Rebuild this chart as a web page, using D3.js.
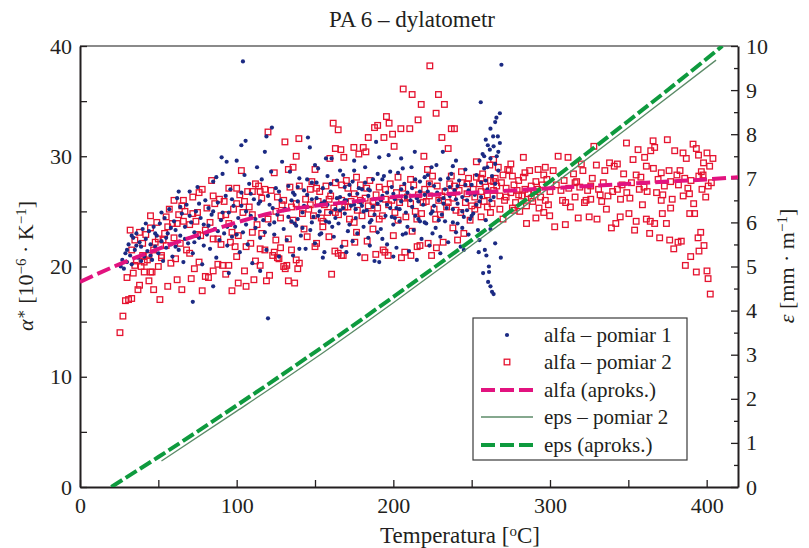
<!DOCTYPE html>
<html><head><meta charset="utf-8">
<script src="https://cdn.jsdelivr.net/npm/d3@7"></script>
<style>
html,body{margin:0;padding:0;background:#fff;}
text{font-family:"Liberation Serif","DejaVu Serif",serif;fill:#231f20;}
</style></head>
<body><svg id="chart" width="809" height="548"></svg>
<script>
const title = "PA 6 – dylatometr";
const xTicks = [0,50,100,150,200,250,300,350,400];
const xLabels = [0,100,200,300,400];
const yLeftTicks = [0,5,10,15,20,25,30,35,40];
const yLeftLabels = [0,10,20,30,40];
const yRightTicks = [0,0.5,1,1.5,2,2.5,3,3.5,4,4.5,5,5.5,6,6.5,7,7.5,8,8.5,9,9.5,10];
const yRightLabels = [0,1,2,3,4,5,6,7,8,9,10];
const legendLabels = ["alfa – pomiar 1","alfa – pomiar 2","alfa (aproks.)","eps – pomiar 2","eps (aproks.)"];

// alfa – pomiar 1 : [T, alpha]
const alfa1 = [
[26,20.0],[27,20.6],[28,19.8],[29,21.2],[30,20.4],[31,22.0],[32,21.0],[33,20.2],[34,22.6],[35,21.5],[36,23.0],[37,20.8],[38,22.2],[39,21.8],[40,23.4],[41,20.9],[42,22.5],[43,21.4],[44,23.2],[45,22.0],[46,20.6],[47,23.6],[48,21.8],[49,22.8],[50,21.2],
[51,23.9],[52,22.3],[53,20.5],[54,24.4],[55,21.7],[56,23.0],[57,25.2],[58,22.0],[59,20.9],[60,24.1],[61,23.3],[62,26.2],[63,21.5],[64,22.8],[65,24.8],[66,20.4],[67,23.6],[68,25.6],[69,22.1],[70,26.8],[71,24.0],[72,21.2],[73,23.1],[74,25.0],[75,27.2],[76,22.6],[77,24.4],[78,20.2],[79,23.8],[80,26.0],[81,22.9],[82,25.3],[83,21.6],[84,24.7],[85,27.7],[86,23.4],[87,20.8],[88,25.8],[89,22.4],[90,24.2],[91,28.4],[92,23.0],[93,26.4],[94,21.9],[95,24.9],[96,27.0],[97,22.7],[98,25.5],[99,23.6],[100,29.6],[72,16.8],[85,18.2],[95,19.4],[87,28.1],[90.4,29.9],[93.6,29.5],[63,26.8],
[101,24.4],[102,21.3],[103,26.7],[104,38.6],[104,23.1],[105,28.3],[106,25.0],[107,22.0],[108,27.5],[109,24.6],[110,20.3],[111,26.1],[112,23.5],[113,29.0],[114,25.7],[115,22.6],[116,27.9],[117,24.2],[118,30.4],[119,21.5],[120,26.4],[120,15.3],[121,23.8],[122.5,32.6],[122,28.6],[123,25.3],[124,22.9],[125,27.1],[126,24.7],[127,20.9],[128,26.0],[129,29.5],[130,23.4],[119,31.8],[105.7,31.4],[103,31.0],[115,19.6],[134,28.6],
[131,25.2],[132,22.4],[133,27.3],[135,24.1],[136,21.0],[137,26.5],[138,23.7],[139,25.9],[140,28.0],[141,22.8],[142,24.9],[143,26.9],[144,21.6],[145,25.4],[145.5,31.7],[146.7,30.8],[147,23.3],[148,27.6],[149,24.5],[150,22.1],[151,26.2],[152,28.9],[153,25.0],[154,23.0],[155,27.1],[156,21.3],[157,29.8],[158,25.6],[159,24.0],[160,26.8],[160.6,29.8],[162,22.7],[163,25.2],[164,27.8],[165,23.9],[166,26.3],[167,21.8],[168,28.3],[169,24.8],[170,26.0],[171,23.2],[172,27.4],[173,25.5],[174,22.3],[175,28.7],[176,24.4],[177,26.6],[178,21.1],[179,25.8],[180,27.0],[181,23.6],[182,29.0],[183,25.1],[184,22.6],[185,26.9],[186,24.2],[187,27.9],[188,20.5],[189,31.3],[190,25.7],[191,29.9],[191,20.4],[192,23.4],[193,26.4],[194,28.2],[195,24.6],[196,22.0],[197,30.1],[198,25.3],[199,27.2],[200,23.8],[201,26.1],[202,21.7],[203,28.5],[204,24.1],[205,25.9],[206,22.9],[207,27.5],[208,24.9],[209,26.7],[210,21.4],[211.6,29.0],[212,25.4],[213,23.3],[213.7,30.4],[215,26.2],[216,24.3],[217,27.7],[218,22.5],[219,25.6],[220,28.1],[221,23.9],[222,26.8],[223,21.9],[224.4,29.0],[225,25.0],[226,27.3],[227,23.5],[227.5,29.2],[229,26.0],[230,22.7],[231,24.7],[231.6,30.4],[233,27.0],[234,25.3],[235,22.2],[236,26.4],[237,28.4],[238,24.0],[239,26.9],[240,23.1],[241,25.7],[242,27.8],[243,21.8],[244,26.3],[245,24.5],[246,28.8],[247,25.1],[248,22.9],[249,26.6],[250,27.4],
[135,26.0],[139,24.3],[143,25.5],[148,26.1],[152,24.6],[156,25.9],[160,24.9],[164,26.2],[168,25.3],[172,26.5],[176,25.2],[180,25.5],[184,26.4],[188,24.7],[192,26.0],[196,25.6],[200,26.6],[204,25.2],[208,26.3],[212,27.1],[216,25.9],[220,26.5],[224,24.8],[228,26.7],[232,25.7],[236,27.2],[240,26.1],[244,25.0],[248,26.9],[137,23.9],[145,27.9],[153,22.9],[161,23.6],[169,27.2],[177,23.0],[185,24.0],[193,22.5],[201,24.4],[209,23.6],[217,24.1],[225,23.0],[233,24.1],[241,23.9],[249,24.3],[158,28.2],[166,28.7],[174,27.7],[182,27.6],[190,28.4],[198,28.6],[206,28.9],[214,27.9],[222,28.3],[230,27.9],[238,29.1],[246,27.4],
[251,24.8],[252,26.5],[253,28.3],[254,23.3],[254.5,21.3],[255,29.6],[255,25.9],[255.8,34.9],[256,27.6],[257,30.2],[257.3,19.4],[258,28.9],[258.4,21.5],[259,31.5],[259.4,21.0],[259,24.2],[260.3,31.0],[260.5,18.6],[260,27.0],[261.6,30.6],[261.1,19.5],[261,20.0],[262,18.2],[262,29.8],[262,32.5],[263.7,31.8],[263,17.7],[263,28.2],[264,30.9],[264,26.3],[265,33.1],[265,29.3],[265.8,33.5],[266.7,31.8],[264,17.5],[267,30.4],[267,28.7],[268,33.9],[268.6,20.8],[269,38.3],[268,31.2],[265,22.1],[255,22.4],[262,23.4],[258,30.0],[266,30.0],[260,29.0],
[30,21.5],[33,22.8],[36,21.9],[39,20.5],[42,23.9],[45,21.0],[48,23.0],[52,24.9],[55,22.6],[58,23.5],[61,21.8],[64,25.4],[67,22.5],[70,24.6],[73,22.2],[76,25.7],[79,21.9],[82,23.7],[85,25.0],[88,23.2],[91,24.9],[94,23.6],[97,26.1],[100,22.9],[103,25.5],[106,23.8],[109,26.6],[112,24.3],[115,25.9],[118,23.1],[121,25.6],[124,24.0],[127,26.8],[130,25.1],[133,24.5],[136,26.7],[139,27.2],[142,23.5],[145,26.5],[148,24.0],[151,27.6],[154,25.7],[157,24.1],[160,27.5],[163,24.4],[166,25.1],[169,26.0],[172,23.8],[175,25.6],[178,27.1],[181,25.0],[184,27.0],[187,25.4],[190,23.1],[193,27.9],[196,26.7],[199,24.5],[202,25.3],[205,27.0],[208,23.0],[211,26.0],[214,24.6],[217,26.8],[220,24.0],[223,27.5],[226,25.5],[229,24.2],[232,26.2],[235,28.0],[238,25.2],[241,27.3],[244,23.5],[247,26.0],[250,24.6],[253,25.6],[256,26.3],[259,27.8],[262,26.0],[265,27.5],[140,21.6],[170,21.3],[200,20.9],[230,21.2],[155,20.8],[185,21.9],[215,20.6],[245,21.5],[175,29.6],[205,29.8],[150,29.2],[240,29.6]
];

// alfa – pomiar 2 : [T, alpha]
const alfa2 = [
[25.5,14.0],[27.4,15.5],[29,16.9],[31,17.0],[33,17.1],[34,19.4],[37,17.9],[38,18.3],[39,20.0],[41,20.4],[41,19.5],[43,20.6],[44,18.7],[44,21.0],[45,19.5],[46,19.5],[47,17.9],[40,21.0],[36,20.5],[30,19.0],[33,21.5],[35,22.4],[42,22.9],[45,23.5],[48,22.2],[49,24.0],[38,23.1],[47,21.5],[50,22.5],[32,23.3],
[51,17.0],[52,20.8],[52,21.0],[53,22.4],[54,23.0],[55,24.5],[56,18.2],[56,23.6],[57,25.2],[58,20.3],[59,23.9],[60,26.0],[61,20.7],[62,18.8],[62,23.9],[63,24.7],[64,22.1],[65,17.9],[66,24.1],[66,26.0],[67,25.0],[68,21.5],[70,23.8],[71,18.9],[72,24.8],[72,26.3],[73,19.8],[74,24.1],[75,22.9],[76,20.4],[76,26.7],[77,22.8],[78,17.8],[78,27.0],[80,19.1],[81,25.3],[82,19.0],[83,24.0],[84,27.8],[85,19.6],[85,22.5],[86,25.7],[88,20.2],[88,22.5],[89,26.1],[90,24.6],[91,20.1],[92,25.9],[93,19.3],[93,24.7],[95,20.1],[95,27.1],[96,22.2],[97,17.8],[97,23.1],[98,25.2],[99,21.8],[100,27.1],[100,25.7],
[101,18.5],[101,22.8],[102,26.5],[103,28.7],[104,24.9],[105,19.6],[106,18.2],[106,21.8],[107,26.8],[108,25.4],[109,22.1],[110,26.8],[110,24.7],[111,18.8],[112,20.5],[112,27.5],[113,23.8],[114,27.3],[115,20.1],[115,21.6],[116,26.2],[116,23.0],[118,21.5],[118,27.0],[119,18.7],[120,32.2],[121,19.2],[122,26.9],[123,21.0],[124,28.5],[124,21.3],[125,25.0],[126,20.8],[126,26.3],[127,20.7],[128,21.7],[129,25.6],[130,20.0],[130.8,31.3],[131,19.8],[132,20.1],[133,18.7],[133,22.5],[133,28.8],[134,27.2],[135,21.5],[136,29.0],[137,18.5],[138,20.6],[138,25.7],[138,30.0],[139,19.8],[139.7,31.6],[140,20.3],[136,24.2],[128,24.4],
[150,28.8],[148,27.7],[159.5,29.8],[161.6,33.0],[163,30.7],[164.8,32.4],[166.5,30.6],[168.4,29.9],[170,27.8],[174.8,30.8],[176.5,28.1],[178,30.2],[180.8,30.8],[182.5,30.4],[184,31.7],[188,32.6],[190,32.8],[194,31.7],[195.6,33.6],[197.3,33.0],[199.5,32.0],[200.5,30.9],[203,28.1],[204.8,32.5],[206.3,36.1],[210.5,32.5],[212,35.6],[215.8,33.3],[217.8,34.7],[219.5,30.0],[221.8,28.8],[223.3,38.2],[225,28.2],[227.3,33.9],[228.8,35.6],[231,31.7],[232.6,34.7],[235,30.7],[237,32.5],[239,32.5],[237,28.2],[243.5,28.6],
[151,22.1],[150,21.8],[158.9,22.7],[160.6,19.3],[162.7,21.4],[164.8,21.2],[166.9,21.0],[168,21.0],[169,22.1],[175.4,22.2],[176.5,23.1],[181.8,20.8],[183.3,22.3],[188.8,21.1],[193.5,21.5],[194.6,21.3],[196.7,21.0],[205.2,20.8],[207.3,21.3],[211.2,21.0],[215.2,21.8],[217,21.9],[222.2,22.1],[224.4,21.0],[227.5,21.7],[231.8,22.2],[145,22.7],[155,23.6],[187,23.4],[200,22.8],[212,23.2],[238,23.5],[245,23.0],[249,24.2],[241,22.4],
[142,24.8],[144,26.1],[146,25.2],[147,27.0],[149,24.6],[152,25.9],[153,26.8],[154,24.4],[156,25.6],[157,27.3],[158,24.9],[160,26.4],[162,25.3],[163,27.6],[165,24.7],[167,26.0],[169,25.4],[171,27.1],[172,24.3],[173,25.9],[175,26.6],[177,25.1],[179,27.4],[180,24.6],[182,26.2],[184,25.5],[185,27.8],[186,24.8],[189,26.5],[190,25.3],[191,27.2],[193,24.6],[195,26.1],[197,25.6],[198,27.5],[201,24.9],[202,26.7],[204,25.8],[206,27.1],[208,24.5],[209,26.3],[211,25.7],[213,27.4],[214,25.0],[216,26.5],[218,24.8],[220,27.0],[221,25.9],[223,26.4],[226,25.2],[228,27.3],[229,26.0],[230,24.7],[233,26.8],[234,25.4],[236,27.5],[238,26.2],[240,25.1],[242,26.9],[244,27.6],[246,25.8],[247,26.6],[248,28.0],[250,25.5],
[251,27.0],[252,26.3],[253,28.1],[254,25.6],[255,27.5],[256,26.8],[257,28.4],[258,25.9],[259,27.2],[260,26.5],[261.6,29.2],[262,27.8],[263,25.7],[264,26.9],[265,28.0],[266,27.3],[267,29.0],[268,26.4],[269,27.6],[270,28.3],[271,26.0],[272,27.1],[273,28.8],[274,28.7],[275,26.7],[276,28.2],[277,27.4],[278,25.8],[279,26.9],[280,27.8],[280.7,25.0],[282,26.4],[283,28.1],[284,27.0],[285,25.5],[286,26.6],[287,28.7],[288,27.3],[289,25.9],[290,26.8],[291,27.7],[292.4,28.8],[293,25.3],[294,26.3],[295,27.4],[296,24.9],[297,26.0],[298,27.9],[299,25.6],[299.8,24.6],[256,24.5],[262,24.9],[270,24.3],[277,25.1],[285,23.9],[291,24.4],[253,29.5],[264,29.7],[275,29.3],[283,29.9],[297,29.0],
[302,28.7],[303,23.6],[305.2,30.0],[307,26.9],[309,27.8],[309.8,23.8],[311.5,29.9],[313,25.4],[315,28.4],[316,26.3],[318,24.4],[319,27.2],[320,29.3],[322,25.8],[324,26.9],[325,24.5],[327,28.0],[328,30.9],[329.6,29.2],[330,24.3],[332,26.5],[334,27.6],[336,25.2],[338,29.4],[339.2,23.5],[340,26.8],[341,29.1],[342,23.9],[343,29.3],[344.8,24.5],[346,27.4],[348.8,31.2],[350.4,24.8],[351,26.2],[353,29.7],[354,23.3],[355,24.1],[356.2,30.6],[357,27.0],[359,25.6],[360.4,29.9],[361.5,24.3],[361.5,29.1],[363.6,23.0],[364,24.1],[364.3,30.5],[365.8,31.4],[366.8,30.8],[366.8,23.9],[368,26.7],[370,22.6],[371,28.5],[371.7,24.8],[373,27.3],[374.3,23.9],[374.9,31.5],[376,28.7],[376.4,22.4],[378,26.1],[379,21.6],[379.6,30.5],[381,28.3],[381.7,22.2],[383.8,22.3],[384.9,30.3],[386,28.0],[386.4,20.1],[387,29.8],[388,27.1],[389.2,24.8],[389.8,20.9],[391.3,31.1],[391.7,25.7],[392.3,24.8],[393.4,30.7],[393.4,19.5],[394.5,22.6],[394.8,30.1],[395.1,21.4],[396.2,23.1],[396.6,28.6],[397.7,28.3],[398,29.4],[398.3,21.9],[399.4,26.3],[400.2,30.3],[400.2,19.6],[400.9,18.9],[401.9,29.1],[402.3,17.5],[403,27.6],[385,26.4],[377,25.3],[369,27.9],[358,28.1],[347,28.4],[335,28.7],[326,27.3],[317,27.7],[308,26.0],[312,27.1],[323,26.0],[333,25.9],[345,26.1],[352,27.6],[362,26.8],[372,26.5],[382,27.4],[390,27.8],[397,27.0],[404,29.8],
[35,20.1],[40,22.1],[45,24.6],[50,20.0],[55,21.9],[60,22.6],[65,25.5],[70,21.2],[75,24.9],[80,23.3],[85,26.4],[90,22.0],[95,23.9],[100,20.9],[105,25.9],[110,23.1],[115,26.8],[120,24.3],[125,22.4],[130,26.0],[135,25.4],[140,27.3],[143,23.4],[147,25.6],[151,27.1],[155,24.1],[159,26.1],[163,24.9],[167,27.4],[171,25.4],[175,24.0],[179,26.0],[183,27.1],[187,25.9],[191,24.3],[195,27.0],[199,26.0],[203,24.2],[207,26.2],[211,27.9],[215,24.3],[219,25.8],[223,27.5],[227,24.3],[231,26.4],[235,25.8],[239,27.3],[243,24.9],[247,27.5],[252,25.2],[256,28.0],[260,25.4],[264,27.7],[268,25.2],[272,26.3],[276,25.3],[280,26.5],[284,28.5],[288,26.2],[292,27.0],[296,28.3],[300,26.8],[304,27.4],[310,25.8],[316,27.6],[321,28.7],[326,26.1],[331,27.0],[337,26.4],[343,27.0],[349,26.7],[355,28.3],[360,27.2],[366,28.9],[371,26.0],[377,27.7],[383,28.7],[389,26.6],[395,28.2],[401,27.3]
];

// alfa (aproks.)
const alfaFitT = [0,25,50,70,100,127,150,175,200,225,250,276,300,325,350,375,400,420];
const alfaFitV = [18.6,20.2,21.6,22.6,24.0,25.0,25.5,25.9,26.3,26.5,26.7,26.9,27.1,27.3,27.5,27.7,27.9,28.1];
// eps – pomiar 2
const epsMeasT = [52,100,150,200,250,300,350,406];
const epsMeasV = [0.59,1.72,2.92,4.18,5.48,6.80,8.15,9.68];
// eps (aproks.)
const epsFitT = [20,50,100,150,200,250,300,350,400,410];
const epsFitV = [0,0.68,1.85,3.06,4.31,5.60,6.93,8.30,9.71,10.0];

const svg = d3.select("#chart");
const L = 80, R = 738, T = 46, B = 487;
const x = d3.scaleLinear().domain([0,420]).range([L,R]);
const yL = d3.scaleLinear().domain([0,40]).range([B,T]);
const yR = d3.scaleLinear().domain([0,10]).range([B,T]);

svg.append("defs").append("clipPath").attr("id","clip")
  .append("rect").attr("x",L).attr("y",T).attr("width",R-L).attr("height",B-T);

const FS = 22, FT = 23, FL = 21;
const black = "#231f20";

svg.append("line").attr("x1",L).attr("x2",R).attr("y1",T).attr("y2",T)
  .attr("stroke","#8a8a8a").attr("stroke-width",2);

function styleAxis(g){
  g.select(".domain").attr("stroke",black).attr("stroke-width",2);
  g.selectAll(".tick line").attr("stroke",black).attr("stroke-width",1.3);
  g.selectAll(".tick text").style("font-family","'Liberation Serif',serif").style("font-size",FS+"px").attr("fill",black);
}

const xAxis = d3.axisBottom(x).tickValues(xTicks).tickSize(-7).tickSizeOuter(0).tickPadding(10)
  .tickFormat(d => xLabels.includes(d) ? d : "");
svg.append("g").attr("transform",`translate(0,${B})`).call(xAxis).call(styleAxis);

const yLAxis = d3.axisLeft(yL).tickValues(yLeftTicks).tickSize(-7).tickSizeOuter(0).tickPadding(8)
  .tickFormat(d => yLeftLabels.includes(d) ? d : "");
svg.append("g").attr("transform",`translate(${L},0)`).call(yLAxis).call(styleAxis);

const yRAxis = d3.axisRight(yR).tickValues(yRightTicks).tickSize(-7).tickSizeOuter(0).tickPadding(8)
  .tickFormat(d => yRightLabels.includes(d) ? d : "");
const gR = svg.append("g").attr("transform",`translate(${R},0)`).call(yRAxis).call(styleAxis);
gR.selectAll(".tick line").attr("x2", d => yRightLabels.includes(d) ? -7 : -4);

const plot = svg.append("g").attr("clip-path","url(#clip)");

const lineR = d3.line().x(d=>x(d[0])).y(d=>yR(d[1])).curve(d3.curveMonotoneX);
const lineL = d3.line().x(d=>x(d[0])).y(d=>yL(d[1])).curve(d3.curveMonotoneX);

const blue = "#1b2a83", red = "#e5132f", pink = "#e2137f", green = "#0e9a3e", thin = "#5c8b68";

plot.append("g").selectAll("rect").data(alfa2).join("rect")
  .attr("x",d=>x(d[0])-2.8).attr("y",d=>yL(d[1])-2.8).attr("width",5.6).attr("height",5.6)
  .attr("fill","none").attr("stroke",red).attr("stroke-width",1.3);

plot.append("g").selectAll("circle").data(alfa1).join("circle")
  .attr("cx",d=>x(d[0])).attr("cy",d=>yL(d[1])).attr("r",2.1).attr("fill",blue);

plot.append("path").datum(epsMeasT.map((t,i)=>[t,epsMeasV[i]]))
  .attr("d",lineR).attr("fill","none").attr("stroke",thin).attr("stroke-width",1.3);
plot.append("path").datum(epsFitT.map((t,i)=>[t,epsFitV[i]]))
  .attr("d",lineR).attr("fill","none").attr("stroke",green).attr("stroke-width",4).attr("stroke-dasharray","13,4");
plot.append("path").datum(alfaFitT.map((t,i)=>[t,alfaFitV[i]]))
  .attr("d",lineL).attr("fill","none").attr("stroke",pink).attr("stroke-width",4).attr("stroke-dasharray","14,5");

svg.append("text").attr("x",412).attr("y",27).attr("text-anchor","middle")
  .style("font-size",FT+"px").text(title);

const xt = svg.append("text").attr("x",460).attr("y",543).attr("text-anchor","middle").style("font-size",FT+"px");
xt.append("tspan").text("Temperatura [");
xt.append("tspan").attr("dy",-7).style("font-size","15px").text("o");
xt.append("tspan").attr("dy",7).text("C]");

const yt = svg.append("text").attr("transform","translate(33,266) rotate(-90)").attr("text-anchor","middle").style("font-size",FS+"px");
yt.append("tspan").style("font-style","italic").text("α");
yt.append("tspan").attr("dy",-7).style("font-size","15px").text("∗");
yt.append("tspan").attr("dy",7).text(" [10");
yt.append("tspan").attr("dy",-7).style("font-size","15px").text("−6");
yt.append("tspan").attr("dy",7).text(" · K");
yt.append("tspan").attr("dy",-7).style("font-size","15px").text("−1");
yt.append("tspan").attr("dy",7).text("]");

const rt = svg.append("text").attr("transform","translate(794,266) rotate(-90)").attr("text-anchor","middle").style("font-size",FS+"px");
rt.append("tspan").style("font-style","italic").text("ε");
rt.append("tspan").text(" [mm · m");
rt.append("tspan").attr("dy",-7).style("font-size","15px").text("−1");
rt.append("tspan").attr("dy",7).text("]");

const lg = svg.append("g");
lg.append("rect").attr("x",473).attr("y",318).attr("width",214).attr("height",142)
  .attr("fill","#fff").attr("stroke","#3a3a3a").attr("stroke-width",1.2);
const ly = [335,362,390,417,445];
legendLabels.forEach((t,i)=>{
  lg.append("text").attr("x",544).attr("y",ly[i]).attr("dy","0.35em").style("font-size",FL+"px").text(t);
});
lg.append("circle").attr("cx",507).attr("cy",ly[0]).attr("r",2.1).attr("fill",blue);
lg.append("rect").attr("x",504.2).attr("y",ly[1]-2.8).attr("width",5.6).attr("height",5.6).attr("fill","none").attr("stroke",red).attr("stroke-width",1.3);
lg.append("line").attr("x1",481).attr("x2",533).attr("y1",ly[2]).attr("y2",ly[2]).attr("stroke",pink).attr("stroke-width",4).attr("stroke-dasharray","14,5");
lg.append("line").attr("x1",481).attr("x2",533).attr("y1",ly[3]).attr("y2",ly[3]).attr("stroke",thin).attr("stroke-width",1.3);
lg.append("line").attr("x1",481).attr("x2",533).attr("y1",ly[4]).attr("y2",ly[4]).attr("stroke",green).attr("stroke-width",4).attr("stroke-dasharray","14,5");
</script></body></html>
